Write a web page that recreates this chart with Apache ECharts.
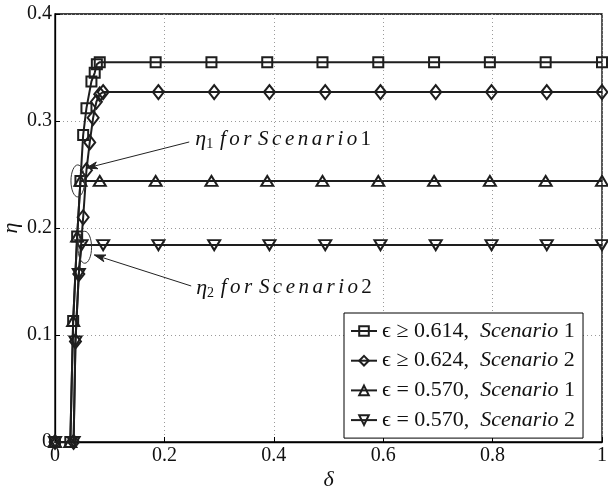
<!DOCTYPE html>
<html>
<head>
<meta charset="utf-8">
<script src="https://cdn.jsdelivr.net/npm/echarts@6/dist/echarts.min.js"></script>
<style>
  html, body { margin: 0; padding: 0; background: #fff; }
  #chart { width: 608px; height: 491px; }
</style>
</head>
<body>
<div id="chart"></div>
<script>
// δ / η samples for each curve
const deltaS1Eq = [0, 0.028, 0.0332, 0.0405, 0.0465, 0.0515, 0.0575, 0.0666, 0.0726, 0.0765, 0.0818,
                   0.184, 0.286, 0.388, 0.489, 0.591, 0.693, 0.795, 0.897, 1.0];
const etaS1Ge   = [0, 0, 0.113, 0.192, 0.244, 0.287, 0.312, 0.337, 0.345, 0.353, 0.355,
                   0.355, 0.355, 0.355, 0.355, 0.355, 0.355, 0.355, 0.355, 0.355];

const deltaS2Ge = [0, 0.034, 0.0374, 0.0435, 0.0515, 0.0575, 0.0635, 0.0697, 0.0757, 0.0818, 0.088,
                   0.189, 0.291, 0.392, 0.494, 0.595, 0.696, 0.798, 0.899, 1.0];
const etaS2Ge   = [0, 0, 0.094, 0.157, 0.210, 0.254, 0.280, 0.303, 0.318, 0.325, 0.327,
                   0.327, 0.327, 0.327, 0.327, 0.327, 0.327, 0.327, 0.327, 0.327];

const deltaS1Fix = [0, 0.028, 0.0332, 0.0405, 0.0465, 0.0818,
                    0.184, 0.286, 0.388, 0.489, 0.591, 0.693, 0.795, 0.897, 1.0];
const etaS1Fix   = [0, 0, 0.113, 0.192, 0.244, 0.244,
                    0.244, 0.244, 0.244, 0.244, 0.244, 0.244, 0.244, 0.244, 0.244];

const deltaS2Fix = [0, 0.034, 0.0374, 0.0435, 0.0484, 0.088,
                    0.189, 0.291, 0.392, 0.494, 0.595, 0.696, 0.798, 0.899, 1.0];
const etaS2Fix   = [0, 0, 0.094, 0.157, 0.184, 0.184,
                    0.184, 0.184, 0.184, 0.184, 0.184, 0.184, 0.184, 0.184, 0.184];

const seriesNames = ['s1ge', 's2ge', 's1eq', 's2eq'];
const legendLabels = {
  s1ge: '{m|ϵ ≥ 0.614,}  {i|Scenario} {m|1}',
  s2ge: '{m|ϵ ≥ 0.624,}  {i|Scenario} {m|2}',
  s1eq: '{m|ϵ = 0.570,}  {i|Scenario} {m|1}',
  s2eq: '{m|ϵ = 0.570,}  {i|Scenario} {m|2}'
};

const xTicks = { min: 0, max: 1, interval: 0.2 };
const yTicks = { min: 0, max: 0.4, interval: 0.1 };

const SERIF = "'Liberation Serif', 'DejaVu Serif', serif";
const INK = '#1e1e1e';
const LS = '\u2006'; // six-per-em space, for the spaced-out math-italic words

function pairs(xs, ys) { return xs.map((x, i) => [x, ys[i]]); }
function spaced(word) { return word.split('').join(LS); }

function lineSeries(name, xs, ys, symbol, size, rotate) {
  return {
    name: name,
    type: 'line',
    data: pairs(xs, ys),
    symbol: symbol,
    symbolSize: size,
    symbolRotate: rotate || 0,
    showAllSymbol: true,
    lineStyle: { color: INK, width: 2 },
    itemStyle: { color: 'rgba(0,0,0,0)', borderColor: INK, borderWidth: 2 },
    emphasis: { disabled: true },
    animation: false,
    z: 3
  };
}

const chart = echarts.init(document.getElementById('chart'), null, { renderer: 'canvas' });

const axisCommon = {
  axisLine: { show: true, onZero: false, lineStyle: { color: '#000', width: 1.3 } },
  axisTick: { show: true, inside: true, length: 5, lineStyle: { color: '#000' } },
  axisLabel: { color: '#111', fontFamily: SERIF, fontSize: 20 },
  splitLine: { show: true, lineStyle: { color: '#9a9a9a', type: [1, 3], width: 1 } }
};

chart.setOption({
  backgroundColor: '#fff',
  animation: false,
  grid: {
    left: 55, right: 6, top: 14, bottom: 49,
    containLabel: false, outerBoundsMode: 'none',
    show: true, borderColor: '#000', borderWidth: 1.3, backgroundColor: 'transparent'
  },
  xAxis: Object.assign({}, axisCommon, {
    type: 'value', min: xTicks.min, max: xTicks.max, interval: xTicks.interval,
    name: 'δ', nameLocation: 'middle', nameGap: 27, nameMoveOverlap: false,
    nameTextStyle: { fontFamily: SERIF, fontStyle: 'italic', fontSize: 22, color: '#111' },
    axisLabel: Object.assign({}, axisCommon.axisLabel, { margin: 4 })
  }),
  yAxis: Object.assign({}, axisCommon, {
    type: 'value', min: yTicks.min, max: yTicks.max, interval: yTicks.interval,
    name: 'η', nameLocation: 'middle', nameGap: 33, nameRotate: 90, nameMoveOverlap: false,
    nameTextStyle: { fontFamily: SERIF, fontStyle: 'italic', fontSize: 22, color: '#111' },
    axisLabel: Object.assign({}, axisCommon.axisLabel, { margin: 3 })
  }),
  legend: {
    orient: 'vertical',
    left: 344, top: 313,
    padding: [7, 8, 7, 6],
    backgroundColor: '#fff',
    borderColor: '#000',
    borderWidth: 1,
    borderRadius: 0,
    itemWidth: 26,
    itemHeight: 12,
    itemGap: 7.7,
    data: seriesNames,
    formatter: n => legendLabels[n],
    textStyle: {
      fontFamily: SERIF, fontSize: 22, color: '#111', lineHeight: 22,
      rich: {
        m: { fontFamily: SERIF, fontSize: 22, color: '#111', lineHeight: 22 },
        i: { fontFamily: SERIF, fontSize: 22, fontStyle: 'italic', color: '#111', lineHeight: 22 }
      }
    }
  },
  series: [
    lineSeries('s1ge', deltaS1Eq, etaS1Ge, 'rect', 10),
    lineSeries('s2ge', deltaS2Ge, etaS2Ge, 'diamond', [11, 14]),
    lineSeries('s1eq', deltaS1Fix, etaS1Fix, 'triangle', [12, 10]),
    lineSeries('s2eq', deltaS2Fix, etaS2Fix, 'triangle', [12, 10], 180)
  ]
});

// Call-out annotations, anchored in data coordinates
const callouts = [
  { ring: [0.0416, 0.244], from: [0.2454, 0.2804], to: [0.0575, 0.256], text: [0.2566, 0.283], idx: '1' },
  { ring: [0.0544, 0.182], from: [0.249, 0.1458], to: [0.072, 0.1748], text: [0.258, 0.144], idx: '2' }
];

function px(p) { return chart.convertToPixel({ gridIndex: 0 }, p); }

const g = [];
callouts.forEach(c => {
  const r = px(c.ring);
  g.push({ type: 'ellipse', shape: { cx: r[0], cy: r[1], rx: 6.8, ry: 16 },
           style: { fill: 'none', stroke: '#333', lineWidth: 1 }, z: 10 });
  const a = px(c.from), b = px(c.to);
  const dx = b[0] - a[0], dy = b[1] - a[1], L = Math.hypot(dx, dy);
  const ux = dx / L, uy = dy / L, nx = -uy, ny = ux;
  g.push({ type: 'line', shape: { x1: a[0], y1: a[1], x2: b[0], y2: b[1] },
           style: { stroke: '#222', lineWidth: 1 }, z: 10 });
  g.push({ type: 'polygon', shape: { points: [
             [b[0], b[1]],
             [b[0] - 11 * ux + 3.5 * nx, b[1] - 11 * uy + 3.5 * ny],
             [b[0] - 8 * ux, b[1] - 8 * uy],
             [b[0] - 11 * ux - 3.5 * nx, b[1] - 11 * uy - 3.5 * ny]
           ] },
           style: { fill: '#222', stroke: '#222', lineWidth: 1 }, z: 10 });
  const t = px(c.text);
  g.push({ type: 'text', x: t[0], y: t[1], z: 10,
           style: {
             text: '{e|η}{s|' + c.idx + '}  {i|' + spaced('for') + '}  {i|' + spaced('Scenario') + '} {n|' + c.idx + '}',
             verticalAlign: 'middle', align: 'left',
             rich: {
               e: { fontFamily: SERIF, fontStyle: 'italic', fontSize: 22, fill: '#111' },
               s: { fontFamily: SERIF, fontSize: 14, fill: '#111', verticalAlign: 'bottom', padding: [10, 0, 0, 0] },
               i: { fontFamily: SERIF, fontStyle: 'italic', fontSize: 21, fill: '#111' },
               n: { fontFamily: SERIF, fontSize: 21, fill: '#111' }
             }
           } });
});
chart.setOption({ graphic: g });
</script>
</body>
</html>
